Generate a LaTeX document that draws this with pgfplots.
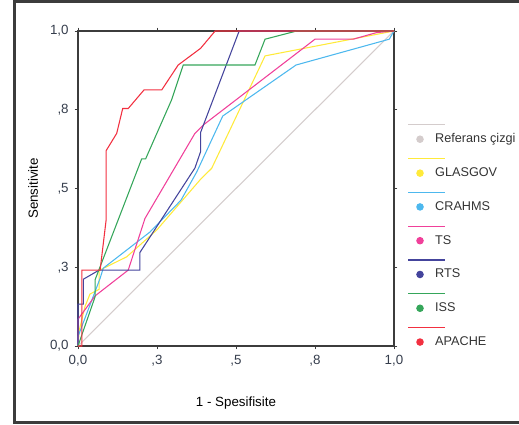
\documentclass[border=0pt]{standalone}
\usepackage{fontspec}
\setmainfont{Liberation Sans}
\usepackage{pgfplots}
\pgfplotsset{compat=1.18}

\definecolor{cref}{HTML}{D4CCCC}
\definecolor{cgla}{HTML}{FFEA3A}
\definecolor{ccra}{HTML}{4DB8EE}
\definecolor{cts}{HTML}{F0409A}
\definecolor{crts}{HTML}{44449C}
\definecolor{ciss}{HTML}{35A65A}
\definecolor{capa}{HTML}{F23040}
\definecolor{ctick}{HTML}{353D4C}
\definecolor{cframe}{HTML}{3C3C3C}

\begin{document}
\begin{tikzpicture}[x=0.75pt,y=0.75pt]
\useasboundingbox (0,0) rectangle (519,425);
\begin{scope}
  \clip (0,0) rectangle (519,425);
  \draw[cframe, line width=2.25pt] (14.5,2.5) rectangle (540,423.8);
\end{scope}
\begin{axis}[
  at={(58.5pt,59.25pt)}, anchor=south west,
  scale only axis, width=237pt, height=236.25pt,
  xmin=0, xmax=1, ymin=0, ymax=1,
  xtick={0,0.25,0.5,0.75,1}, ytick={0,0.25,0.5,0.75,1},
  xticklabels={{0,0},{,3},{,5},{,8},{1,0}},
  yticklabels={{0,0},{,3},{,5},{,8},{1,0}},
  tick align=outside, major tick length=2.5pt,
  tick style={cframe, line width=0.6pt},
  axis line style={cframe, line width=0.8pt},
  tick label style={font=\fontsize{10}{12}\selectfont, text=ctick},
  xticklabel style={yshift=-1pt},
  yticklabel style={xshift=-1pt},
  xlabel={1 - Spesifisite}, ylabel={Sensitivite},
  label style={font=\fontsize{12.2}{14}\selectfont, text=black!80},
  every axis x label/.style={at={(axis description cs:0.5,-0.181)}, anchor=center},
  every axis y label/.style={at={(axis description cs:-0.142,0.5)}, rotate=90, anchor=center},
  legend image code/.code={
    \draw[#1, overlay, line width=0.9pt] (-8.7pt,10.9pt) -- (18.8pt,10.9pt);
    \fill[#1] (0pt,0pt) circle (2.4pt);
  },
  legend style={at={(axis description cs:1.057,0.692)}, anchor=north west,
    draw=none, fill=none, font=\fontsize{9.5}{11}\selectfont,
    text=black!80, row sep=13.2pt,
    /tikz/every odd column/.append style={column sep=6.6pt}},
  legend cell align=left,
  every axis plot/.append style={line width=0.8pt, mark=none},
  clip=false,
]
\addplot[cref] coordinates {(0,0) (1,1)};
\addlegendentry{Referans çizgi}
\addplot[cgla] coordinates {(0,0) (0.004,0.05) (0.022,0.125) (0.038,0.165) (0.067,0.18) (0.067,0.24) (0.154,0.283) (0.249,0.368) (0.386,0.527) (0.423,0.564) (0.592,0.921) (1,1)};
\addlegendentry{GLASGOV}
\addplot[ccra] coordinates {(0,0) (0,0.03) (0.070,0.215) (0.080,0.247) (0.228,0.362) (0.326,0.463) (0.376,0.553) (0.458,0.730) (0.690,0.892) (0.985,0.974) (1,1)};
\addlegendentry{CRAHMS}
\addplot[cts] coordinates {(0,0) (0,0.085) (0.054,0.159) (0.159,0.241) (0.212,0.405) (0.370,0.675) (0.397,0.702) (0.750,0.974) (0.871,0.974) (0.945,0.995) (1,1)};
\addlegendentry{TS}
\addplot[crts] coordinates {(0,0) (0,0.133) (0.017,0.133) (0.017,0.212) (0.067,0.241) (0.196,0.241) (0.196,0.297) (0.370,0.565) (0.388,0.617) (0.388,0.678) (0.510,1) (1,1)};
\addlegendentry{RTS}
\addplot[ciss] coordinates {(0,0) (0.054,0.156) (0.054,0.21) (0.2015,0.594) (0.214,0.594) (0.296,0.781) (0.333,0.892) (0.56,0.892) (0.592,0.974) (0.692,1) (1,1)};
\addlegendentry{ISS}
\addplot[capa] coordinates {(0,0) (0.012,0) (0.012,0.241) (0.070,0.241) (0.089,0.40) (0.089,0.620) (0.1225,0.675) (0.1415,0.754) (0.159,0.754) (0.209,0.813) (0.265,0.813) (0.317,0.892) (0.388,0.945) (0.434,1) (1,1)};
\addlegendentry{APACHE}
\end{axis}
\end{tikzpicture}
\end{document}
